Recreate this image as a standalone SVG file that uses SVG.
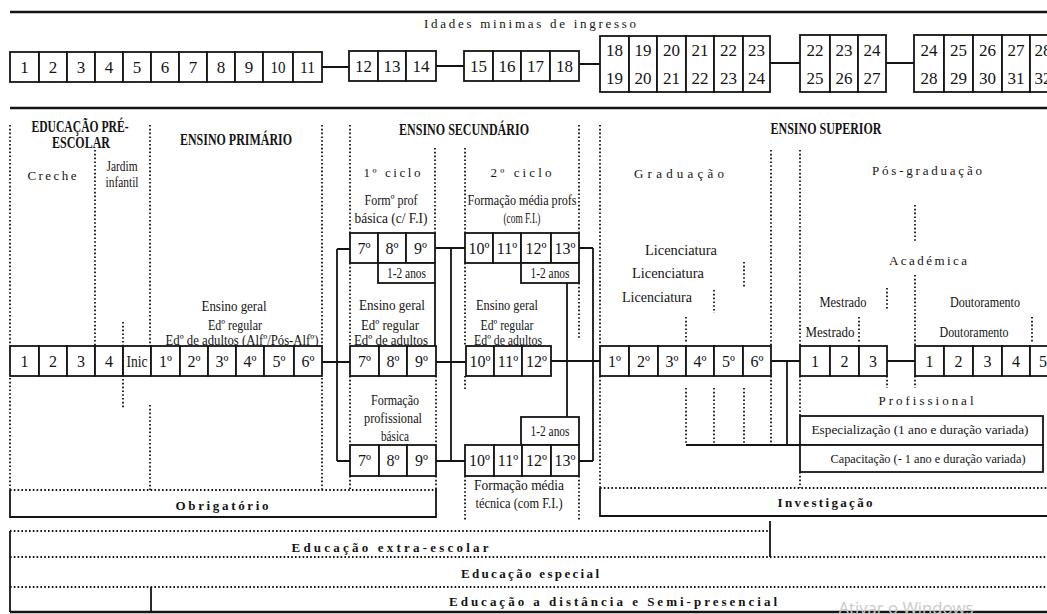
<svg xmlns="http://www.w3.org/2000/svg" width="1047" height="614" viewBox="0 0 1047 614">
<style>
text{font-family:"Liberation Serif","Times New Roman",serif;fill:#141414;text-anchor:middle;dominant-baseline:central}
.c{fill:#fff;stroke:#141414;stroke-width:1.8}
.l{fill:none;stroke:#141414;stroke-width:1.8}
.L{fill:none;stroke:#141414;stroke-width:2.6}
.d{fill:none;stroke:#141414;stroke-width:1.8;stroke-dasharray:1.6 2.2}
.n{font-size:16px}
.a{font-size:17px}
.t{font-size:14.5px}
.t2{font-size:12.5px}
.h{font-size:16px;font-weight:bold}
.s{font-size:13px}
.sb{font-size:13px;font-weight:bold}
.w{font-family:"Open Sans","Noto Sans",sans-serif;font-size:16px;fill:#c9c9c9}
</style>

<!-- frame lines -->
<g id="frame">
<line class="L" x1="10" y1="12" x2="1047" y2="12"/>
<line class="L" x1="10" y1="108" x2="1047" y2="108"/>
</g>

<text id="title" class="s" x="530" y="23" textLength="212">Idades minimas de ingresso</text>

<!-- age groups -->
<g id="ages1">
<rect class="c" x="10" y="52" width="29" height="30"/><rect class="c" x="39" y="52" width="28" height="30"/><rect class="c" x="67" y="52" width="28" height="30"/><rect class="c" x="95" y="52" width="28" height="30"/><rect class="c" x="123" y="52" width="28" height="30"/><rect class="c" x="151" y="52" width="28" height="30"/><rect class="c" x="179" y="52" width="28" height="30"/><rect class="c" x="207" y="52" width="28" height="30"/><rect class="c" x="235" y="52" width="28" height="30"/><rect class="c" x="263" y="52" width="30" height="30"/><rect class="c" x="293" y="52" width="29" height="30"/>
<text class="a" x="24.5" y="67">1</text><text class="a" x="53" y="67">2</text><text class="a" x="81" y="67">3</text><text class="a" x="109" y="67">4</text><text class="a" x="137" y="67">5</text><text class="a" x="165" y="67">6</text><text class="a" x="193" y="67">7</text><text class="a" x="221" y="67">8</text><text class="a" x="249" y="67">9</text><text class="a" x="278" y="67" textLength="15" lengthAdjust="spacingAndGlyphs">10</text><text class="a" x="307.5" y="67" textLength="15" lengthAdjust="spacingAndGlyphs">11</text>
</g>
<g id="ages2">
<rect class="c" x="349" y="51" width="29" height="30"/><rect class="c" x="378" y="51" width="28" height="30"/><rect class="c" x="406" y="51" width="30" height="30"/>
<text class="a" x="363.5" y="66">12</text><text class="a" x="392" y="66">13</text><text class="a" x="421" y="66">14</text>
</g>
<g id="ages3">
<rect class="c" x="464" y="51" width="29" height="30"/><rect class="c" x="493" y="51" width="28" height="30"/><rect class="c" x="521" y="51" width="29" height="30"/><rect class="c" x="550" y="51" width="29" height="30"/>
<text class="a" x="478.5" y="66">15</text><text class="a" x="507" y="66">16</text><text class="a" x="535.5" y="66">17</text><text class="a" x="564.5" y="66">18</text>
</g>
<g id="ages4">
<rect class="c" x="600" y="36" width="29" height="56"/><rect class="c" x="629" y="36" width="28" height="56"/><rect class="c" x="657" y="36" width="29" height="56"/><rect class="c" x="686" y="36" width="28" height="56"/><rect class="c" x="714" y="36" width="29" height="56"/><rect class="c" x="743" y="36" width="27" height="56"/>
<text class="a" x="614.5" y="50">18</text><text class="a" x="643" y="50">19</text><text class="a" x="671.5" y="50">20</text><text class="a" x="700" y="50">21</text><text class="a" x="728.5" y="50">22</text><text class="a" x="756.5" y="50">23</text>
<text class="a" x="614.5" y="78">19</text><text class="a" x="643" y="78">20</text><text class="a" x="671.5" y="78">21</text><text class="a" x="700" y="78">22</text><text class="a" x="728.5" y="78">23</text><text class="a" x="756.5" y="78">24</text>
</g>
<g id="ages5">
<rect class="c" x="800" y="35" width="30" height="57"/><rect class="c" x="830" y="35" width="28" height="57"/><rect class="c" x="858" y="35" width="28" height="57"/>
<text class="a" x="815" y="50">22</text><text class="a" x="844" y="50">23</text><text class="a" x="872" y="50">24</text>
<text class="a" x="815" y="78">25</text><text class="a" x="844" y="78">26</text><text class="a" x="872" y="78">27</text>
</g>
<g id="ages6">
<rect class="c" x="914" y="35" width="30" height="57"/><rect class="c" x="944" y="35" width="29" height="57"/><rect class="c" x="973" y="35" width="29" height="57"/><rect class="c" x="1002" y="35" width="28" height="57"/><rect class="c" x="1030" y="35" width="29" height="57"/>
<text class="a" x="929" y="50">24</text><text class="a" x="958.5" y="50">25</text><text class="a" x="987.5" y="50">26</text><text class="a" x="1016" y="50">27</text><text class="a" x="1043" y="50">28</text>
<text class="a" x="929" y="78">28</text><text class="a" x="958.5" y="78">29</text><text class="a" x="987.5" y="78">30</text><text class="a" x="1016" y="78">31</text><text class="a" x="1043" y="78">32</text>
</g>

<!-- separators (dotted) -->
<g id="separators">
<path class="d" d="M10 125V346M10 378V490M95 150V346M150 125V346M150 405V490M322 125V346M322 378V490
M350 125V233M350 263V346M350 376V445M350 476V490M435 148V233M436 376V445M436 476V489M465 148V233M465 263V346M465 376V390M465 476V520
M579 125V233M579 283V340M579 476V520M600 125V346M600 376V488
M686 317V343M686 388V444M714 290V313M714 388V444M744 262V287M744 388V444M771 150V346M771 376V444
M800 150V346M800 376V416M800 472V488M859 317V343M887 288V310M887 376V388M915 205V242M915 275V346M915 376V388M1032 317V343
M10 490H436M600 488H1047M10 531H770M10 557H1047M10 587H1047"/>
</g>

<!-- connectors -->
<g id="connectors">
<path class="l" d="M322 67H349M436 66H464M579 64H600M770 63H800M886 63H914"/>
<path class="l" d="M322 362H350M337 249V461M337 249H350M337 461H350"/>
<path class="l" d="M435 248H465M436 362H466M436 461H465M451 248V461M435 283V346"/>
<path class="l" d="M579 248H593M551 361H600M579 461H593M593 248V461M567 283V417"/>
<path class="l" d="M771 361H800M787 361V445M686 445H800M887 361H915"/>
<path class="l" d="M10 490V517H436V489"/>
<path class="l" d="M600 488V516H1047"/>
<path class="l" d="M10 531V612M151 587V612M770 521V557"/>
<path class="L" d="M10 612H1047"/>
</g>

<!-- headers -->
<g id="headers">
<text class="h" x="80" y="126" textLength="97" lengthAdjust="spacingAndGlyphs">EDUCAÇÃO PRÉ-</text>
<text class="h" x="81" y="142" textLength="58" lengthAdjust="spacingAndGlyphs">ESCOLAR</text>
<text class="h" x="236" y="139" textLength="112" lengthAdjust="spacingAndGlyphs">ENSINO PRIMÁRIO</text>
<text class="h" x="464" y="129" textLength="130" lengthAdjust="spacingAndGlyphs">ENSINO SECUNDÁRIO</text>
<text class="h" x="826" y="128" textLength="111" lengthAdjust="spacingAndGlyphs">ENSINO SUPERIOR</text>
</g>

<!-- pre-school and primary -->
<g id="preescolar">
<text class="s" x="52" y="175" textLength="49">Creche</text>
<text class="t" x="122" y="166" textLength="31" lengthAdjust="spacingAndGlyphs">Jardim</text>
<text class="t" x="122" y="182" textLength="33" lengthAdjust="spacingAndGlyphs">infantil</text>
</g>
<g id="primario-texto">
<text class="t" x="234" y="306" textLength="65" lengthAdjust="spacingAndGlyphs">Ensino geral</text>
<text class="t" x="235" y="325" textLength="54" lengthAdjust="spacingAndGlyphs">Edº regular</text>
<text class="t" x="242" y="340" textLength="153" lengthAdjust="spacingAndGlyphs">Edº de adultos (Alfº/Pós-Alfº)</text>
</g>
<g id="linha-basica">
<rect class="c" x="10" y="346" width="29" height="30"/><rect class="c" x="39" y="346" width="28" height="30"/><rect class="c" x="67" y="346" width="28" height="30"/><rect class="c" x="95" y="346" width="28" height="30"/><rect class="c" x="123" y="346" width="28" height="30"/><rect class="c" x="151" y="346" width="29" height="30"/><rect class="c" x="180" y="346" width="28" height="30"/><rect class="c" x="208" y="346" width="28" height="30"/><rect class="c" x="236" y="346" width="28" height="30"/><rect class="c" x="264" y="346" width="30" height="30"/><rect class="c" x="294" y="346" width="28" height="30"/>
<text class="n" x="24.5" y="361">1</text><text class="n" x="53" y="361">2</text><text class="n" x="81" y="361">3</text><text class="n" x="109" y="361">4</text><text class="n" x="137" y="361" textLength="21" lengthAdjust="spacingAndGlyphs">Inic</text><text class="n" x="165.5" y="361">1º</text><text class="n" x="194" y="361">2º</text><text class="n" x="222" y="361">3º</text><text class="n" x="250" y="361">4º</text><text class="n" x="279" y="361">5º</text><text class="n" x="308" y="361">6º</text>
<path class="d" d="M123 322V408"/>
</g>

<!-- secondary 1º ciclo -->
<g id="ciclo1">
<text class="s" x="392" y="172" textLength="57">1º ciclo</text>
<text class="t" x="391" y="200" textLength="53" lengthAdjust="spacingAndGlyphs">Formº prof</text>
<text class="t" x="391" y="218" textLength="73" lengthAdjust="spacingAndGlyphs">básica (c/ F.I)</text>
</g>
<g id="ciclo1-prof">
<rect class="c" x="350" y="233" width="28" height="30"/><rect class="c" x="378" y="233" width="28" height="30"/><rect class="c" x="406" y="233" width="29" height="30"/>
<text class="n" x="364" y="248">7º</text><text class="n" x="392" y="248">8º</text><text class="n" x="420.5" y="248">9º</text>
<rect class="c" x="378" y="263" width="57" height="20"/>
<text class="t" x="406.5" y="273" textLength="39" lengthAdjust="spacingAndGlyphs">1-2 anos</text>
</g>
<g id="ciclo1-geral">
<text class="t" x="392" y="305" textLength="66" lengthAdjust="spacingAndGlyphs">Ensino geral</text>
<text class="t" x="390" y="325" textLength="58" lengthAdjust="spacingAndGlyphs">Edº regular</text>
<text class="t" x="391" y="340" textLength="74" lengthAdjust="spacingAndGlyphs">Edº de adultos</text>
<rect class="c" x="350" y="346" width="29" height="30"/><rect class="c" x="379" y="346" width="28" height="30"/><rect class="c" x="407" y="346" width="29" height="30"/>
<text class="n" x="364.5" y="361">7º</text><text class="n" x="393" y="361">8º</text><text class="n" x="421.5" y="361">9º</text>
</g>
<g id="ciclo1-formacao">
<text class="t" x="395" y="400" textLength="48" lengthAdjust="spacingAndGlyphs">Formação</text>
<text class="t" x="393" y="418" textLength="58" lengthAdjust="spacingAndGlyphs">profissional</text>
<text class="t" x="395" y="436" textLength="28" lengthAdjust="spacingAndGlyphs">básica</text>
<rect class="c" x="350" y="445" width="29" height="31"/><rect class="c" x="379" y="445" width="28" height="31"/><rect class="c" x="407" y="445" width="29" height="31"/>
<text class="n" x="364.5" y="460.5">7º</text><text class="n" x="393" y="460.5">8º</text><text class="n" x="421.5" y="460.5">9º</text>
</g>

<!-- secondary 2º ciclo -->
<g id="ciclo2">
<text class="s" x="521" y="172" textLength="61">2º ciclo</text>
<text class="t" x="522" y="200" textLength="109" lengthAdjust="spacingAndGlyphs">Formação média profs</text>
<text class="t" x="522" y="218" textLength="37" lengthAdjust="spacingAndGlyphs">(com F.I.)</text>
</g>
<g id="ciclo2-prof">
<rect class="c" x="465" y="233" width="28" height="30"/><rect class="c" x="493" y="233" width="28" height="30"/><rect class="c" x="521" y="233" width="30" height="30"/><rect class="c" x="551" y="233" width="28" height="30"/>
<text class="n" x="479" y="248">10º</text><text class="n" x="507" y="248">11º</text><text class="n" x="536" y="248">12º</text><text class="n" x="565" y="248">13º</text>
<rect class="c" x="521" y="263" width="58" height="20"/>
<text class="t" x="550" y="273" textLength="39" lengthAdjust="spacingAndGlyphs">1-2 anos</text>
</g>
<g id="ciclo2-geral">
<text class="t" x="507" y="305" textLength="62" lengthAdjust="spacingAndGlyphs">Ensino geral</text>
<text class="t" x="507" y="325" textLength="53" lengthAdjust="spacingAndGlyphs">Edº regular</text>
<text class="t" x="508" y="340" textLength="68" lengthAdjust="spacingAndGlyphs">Edº de adultos</text>
<rect class="c" x="466" y="346" width="28" height="30"/><rect class="c" x="494" y="346" width="28" height="30"/><rect class="c" x="522" y="346" width="29" height="30"/>
<text class="n" x="480" y="361">10º</text><text class="n" x="508" y="361">11º</text><text class="n" x="536.5" y="361">12º</text>
</g>
<g id="ciclo2-tecnica">
<rect class="c" x="521" y="417" width="58" height="28"/>
<text class="t" x="550" y="431" textLength="39" lengthAdjust="spacingAndGlyphs">1-2 anos</text>
<rect class="c" x="465" y="445" width="29" height="31"/><rect class="c" x="494" y="445" width="28" height="31"/><rect class="c" x="522" y="445" width="29" height="31"/><rect class="c" x="551" y="445" width="28" height="31"/>
<text class="n" x="479.5" y="460.5">10º</text><text class="n" x="508" y="460.5">11º</text><text class="n" x="536.5" y="460.5">12º</text><text class="n" x="565" y="460.5">13º</text>
<text class="t" x="519" y="485" textLength="90" lengthAdjust="spacingAndGlyphs">Formação média</text>
<text class="t" x="519" y="503" textLength="87" lengthAdjust="spacingAndGlyphs">técnica (com F.I.)</text>
</g>

<!-- superior -->
<g id="graduacao">
<text class="s" x="679" y="173" textLength="90">Graduação</text>
<text class="t" x="681" y="250" textLength="72" lengthAdjust="spacingAndGlyphs">Licenciatura</text>
<text class="t" x="668" y="273" textLength="72" lengthAdjust="spacingAndGlyphs">Licenciatura</text>
<text class="t" x="657" y="297" textLength="70" lengthAdjust="spacingAndGlyphs">Licenciatura</text>
<rect class="c" x="600" y="346" width="29" height="30"/><rect class="c" x="629" y="346" width="29" height="30"/><rect class="c" x="658" y="346" width="28" height="30"/><rect class="c" x="686" y="346" width="28" height="30"/><rect class="c" x="714" y="346" width="29" height="30"/><rect class="c" x="743" y="346" width="28" height="30"/>
<text class="n" x="614.5" y="361">1º</text><text class="n" x="643.5" y="361">2º</text><text class="n" x="672" y="361">3º</text><text class="n" x="700" y="361">4º</text><text class="n" x="728.5" y="361">5º</text><text class="n" x="757" y="361">6º</text>
</g>
<g id="posgraduacao">
<text class="s" x="927" y="170" textLength="110">Pós-graduação</text>
<text class="s" x="928" y="260" textLength="78">Académica</text>
<text class="t" x="843" y="302" textLength="47" lengthAdjust="spacingAndGlyphs">Mestrado</text>
<text class="t" x="830" y="332" textLength="49" lengthAdjust="spacingAndGlyphs">Mestrado</text>
<text class="t" x="985" y="302" textLength="70" lengthAdjust="spacingAndGlyphs">Doutoramento</text>
<text class="t" x="974" y="332" textLength="69" lengthAdjust="spacingAndGlyphs">Doutoramento</text>
</g>
<g id="mestrado">
<rect class="c" x="800" y="346" width="30" height="30"/><rect class="c" x="830" y="346" width="29" height="30"/><rect class="c" x="859" y="346" width="28" height="30"/>
<text class="n" x="815" y="361">1</text><text class="n" x="844.5" y="361">2</text><text class="n" x="873" y="361">3</text>
</g>
<g id="doutoramento">
<rect class="c" x="915" y="346" width="29" height="30"/><rect class="c" x="944" y="346" width="29" height="30"/><rect class="c" x="973" y="346" width="29" height="30"/><rect class="c" x="1002" y="346" width="28" height="30"/><rect class="c" x="1030" y="346" width="29" height="30"/>
<text class="n" x="929.5" y="361">1</text><text class="n" x="958.5" y="361">2</text><text class="n" x="987.5" y="361">3</text><text class="n" x="1016" y="361">4</text><text class="n" x="1043" y="361">5</text>
</g>
<g id="profissional">
<text class="s" x="926" y="400" textLength="95">Profissional</text>
<rect class="c" x="800" y="416" width="243" height="29"/>
<text class="t2" x="920" y="430" textLength="217" lengthAdjust="spacingAndGlyphs">Especialização (1 ano e duração variada)</text>
<rect class="c" x="800" y="445" width="243" height="27"/>
<text class="t2" x="928" y="459" textLength="195" lengthAdjust="spacingAndGlyphs">Capacitação (- 1 ano e duração variada)</text>
</g>

<!-- bottom bands -->
<g id="obrigatorio"><text class="sb" x="222" y="505" textLength="93">Obrigatório</text></g>
<g id="investigacao"><text class="sb" x="825" y="502" textLength="95">Investigação</text></g>
<g id="extraescolar"><text class="sb" x="390" y="547" textLength="197">Educação extra-escolar</text></g>
<g id="especial"><text class="sb" x="530" y="573" textLength="138">Educação especial</text></g>
<g id="distancia"><text class="sb" x="613" y="601" textLength="328">Educação a distância e Semi-presencial</text></g>

<text class="w" x="906" y="608" textLength="135" lengthAdjust="spacingAndGlyphs" dominant-baseline="alphabetic">Ativar o Windows</text>
</svg>
